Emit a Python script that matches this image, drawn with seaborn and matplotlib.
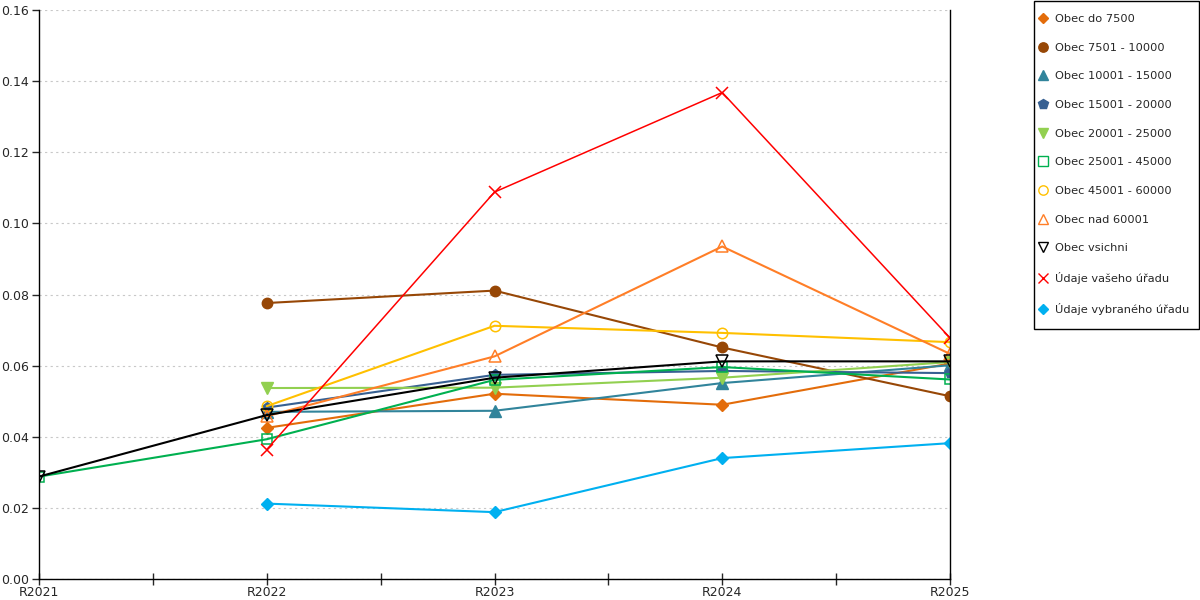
import matplotlib
matplotlib.use("Agg")
import matplotlib.pyplot as plt
from matplotlib.lines import Line2D
from matplotlib.patches import Rectangle
import seaborn as sns
import pandas as pd
import numpy as np

# categories on the x axis
years = ["R2021", "R2022", "R2023", "R2024", "R2025"]

# series values (None = no value for that year)
obec_do_7500 = [None, 0.0425, 0.0521, 0.0490, 0.0606]
obec_7501_10000 = [None, 0.0776, 0.0811, 0.0651, 0.0514]
obec_10001_15000 = [None, 0.0470, 0.0473, 0.0551, 0.0601]
obec_15001_20000 = [None, 0.0482, 0.0574, 0.0585, 0.0579]
obec_20001_25000 = [None, 0.0537, 0.0538, 0.0566, 0.0610]
obec_25001_45000 = [0.0288, 0.0393, 0.0560, 0.0596, 0.0561]
obec_45001_60000 = [None, 0.0486, 0.0712, 0.0692, 0.0666]
obec_nad_60001 = [None, 0.0458, 0.0626, 0.0935, 0.0633]
obec_vsichni = [0.0288, 0.0461, 0.0566, 0.0612, 0.0612]
udaje_vaseho = [None, 0.0364, 0.1088, 0.1368, 0.0678]
udaje_vybraneho = [None, 0.0212, 0.0188, 0.0340, 0.0382]

names = ["Obec do 7500", "Obec 7501 - 10000", "Obec 10001 - 15000",
         "Obec 15001 - 20000", "Obec 20001 - 25000", "Obec 25001 - 45000",
         "Obec 45001 - 60000", "Obec nad 60001", "Obec vsichni",
         "Údaje vašeho úřadu", "Údaje vybraného úřadu"]
values = [obec_do_7500, obec_7501_10000, obec_10001_15000, obec_15001_20000,
          obec_20001_25000, obec_25001_45000, obec_45001_60000, obec_nad_60001,
          obec_vsichni, udaje_vaseho, udaje_vybraneho]

# styles: colour, marker, filled, marker size, line width
styles = [
    ("#E36C0A", "D", True, 6, 1.5),
    ("#974706", "o", True, 7.5, 1.5),
    ("#31849B", "^", True, 8, 1.5),
    ("#376092", "p", True, 8, 1.5),
    ("#92D050", "v", True, 8, 1.5),
    ("#00B050", "s", False, 7.5, 1.5),
    ("#FFC000", "o", False, 7.5, 1.5),
    ("#FF7E27", "^", False, 8, 1.5),
    ("#000000", "v", False, 8, 1.5),
    ("#FF0000", "x", False, 8, 1.1),
    ("#00B0F0", "D", True, 6, 1.5),
]

rows = []
for name, vals in zip(names, values):
    for i, v in enumerate(vals):
        if v is not None:
            rows.append({"series": name, "x": i, "value": v})
data = pd.DataFrame(rows)

sns.set_style("white")
plt.rcParams["font.family"] = ["DejaVu Sans"]

fig = plt.figure(figsize=(12, 6), dpi=100)
ax = fig.add_axes([39 / 1200, 21 / 600, 911 / 1200, 569 / 600])

handles = []
for name, (col, mk, filled, ms, lw) in zip(names, styles):
    sub = data[data["series"] == name]
    sns.lineplot(data=sub, x="x", y="value", ax=ax, color=col, linewidth=lw,
                 marker=mk, markersize=ms,
                 markerfacecolor=col if filled else "none",
                 markeredgecolor=col, markeredgewidth=1.0 if filled else 1.1,
                 legend=False)
    handles.append(Line2D([], [], linestyle="none", marker=mk, markersize=ms * 0.9,
                          color=col, markerfacecolor=col if filled else "none",
                          markeredgecolor=col, label=name))

ax.set_xlim(0, 4)
ax.set_ylim(0, 0.16)
ax.set_xticks(range(len(years)))
ax.set_xticklabels(years)
ax.set_xticks(np.arange(0.5, 4, 1), minor=True)
ax.set_yticks(np.arange(0, 0.161, 0.02))
ax.yaxis.set_major_formatter(matplotlib.ticker.FormatStrFormatter("%.2f"))
ax.set_xlabel("")
ax.set_ylabel("")

ax.grid(axis="y", color="#C8C8C8", linestyle=(0, (2, 3)), linewidth=0.8)
ax.set_axisbelow(True)
for s in ["left", "bottom", "right"]:
    ax.spines[s].set_color("black")
    ax.spines[s].set_linewidth(1.0)
ax.spines["top"].set_visible(False)
ax.tick_params(axis="x", which="both", direction="inout", length=8, width=1,
               labelsize=9, pad=1, bottom=True)
ax.tick_params(axis="y", direction="out", length=5, width=1, labelsize=9,
               left=True, pad=2)

# legend without its own frame, a plain box is drawn round it
leg = fig.legend(handles=handles, loc="upper left",
                 bbox_to_anchor=(1038 / 1200, 1 - 14 / 600),
                 frameon=False, fontsize=8.2, labelspacing=1.64,
                 handlelength=0.8, handletextpad=0.7, borderpad=0,
                 borderaxespad=0)
fig.patches.append(Rectangle((1034 / 1200, 1 - 329 / 600), 165 / 1200,
                             328 / 600, transform=fig.transFigure,
                             facecolor="none", edgecolor="black",
                             linewidth=1.0))

fig.savefig("out.png", dpi=100)
